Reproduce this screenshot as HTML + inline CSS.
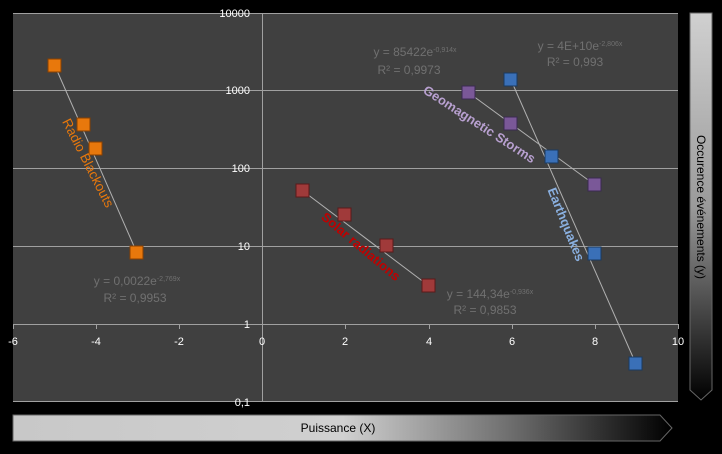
<!DOCTYPE html>
<html><head><style>
html,body{margin:0;padding:0;background:#000;}
svg{display:block;font-family:"Liberation Sans",sans-serif;}
</style></head><body>
<svg width="722" height="454" viewBox="0 0 722 454" xmlns="http://www.w3.org/2000/svg">
<defs>
<linearGradient id="bx" x1="0" x2="1" y1="0" y2="0">
<stop offset="0" stop-color="#c8c8c8"/><stop offset="0.5" stop-color="#d0d0d0"/><stop offset="0.75" stop-color="#707070"/><stop offset="1" stop-color="#000"/></linearGradient>
<linearGradient id="by" x1="0" x2="0" y1="0" y2="1">
<stop offset="0" stop-color="#d0d0d0"/><stop offset="0.5" stop-color="#9a9a9a"/><stop offset="1" stop-color="#000"/></linearGradient>
</defs>
<rect width="722" height="454" fill="#000"/>
<rect x="13" y="13" width="665" height="389" fill="#404040"/>
<g stroke="#a0a0a0" stroke-width="1">
<line x1="13" y1="13.5" x2="678" y2="13.5"/>
<line x1="13" y1="90.5" x2="678" y2="90.5"/>
<line x1="13" y1="168.5" x2="678" y2="168.5"/>
<line x1="13" y1="246.5" x2="678" y2="246.5"/>
<line x1="13" y1="324.5" x2="678" y2="324.5"/>
<line x1="13" y1="401.5" x2="678" y2="401.5"/>
<line x1="262.5" y1="13" x2="262.5" y2="402"/>
</g>
<g stroke="#a0a0a0"><line x1="13.5" y1="324" x2="13.5" y2="329"/><line x1="96.5" y1="324" x2="96.5" y2="329"/><line x1="179.5" y1="324" x2="179.5" y2="329"/><line x1="345.5" y1="324" x2="345.5" y2="329"/><line x1="429.5" y1="324" x2="429.5" y2="329"/><line x1="512.5" y1="324" x2="512.5" y2="329"/><line x1="595.5" y1="324" x2="595.5" y2="329"/><line x1="678.5" y1="324" x2="678.5" y2="329"/></g>
<g fill="#fff" font-size="11" text-anchor="end">
<text x="250" y="17">10000</text><text x="250" y="94">1000</text><text x="250" y="172">100</text><text x="250" y="250">10</text><text x="250" y="328">1</text><text x="250" y="406">0,1</text>
</g>
<g fill="#fff" font-size="11" text-anchor="middle">
<text x="13" y="345">-6</text><text x="96" y="345">-4</text><text x="179" y="345">-2</text><text x="262" y="345">0</text><text x="345" y="345">2</text><text x="429" y="345">4</text><text x="512" y="345">6</text><text x="595" y="345">8</text><text x="678" y="345">10</text>
</g>
<g stroke="#b0b0b0" stroke-width="1">
<line x1="55" y1="66" x2="137" y2="253"/>
<line x1="303" y1="191" x2="429" y2="286"/>
<line x1="469" y1="93" x2="595" y2="185"/>
<line x1="511" y1="80" x2="636" y2="364"/>
</g>
<g stroke-width="1">
<g fill="#e8780c" stroke="#8a4000">
<rect x="48" y="59" width="13" height="13"/><rect x="77" y="118" width="13" height="13"/><rect x="89" y="142" width="13" height="13"/><rect x="130" y="246" width="13" height="13"/></g>
<g fill="#a03a3a" stroke="#5a1a1a">
<rect x="296" y="184" width="13" height="13"/><rect x="338" y="208" width="13" height="13"/><rect x="380" y="239" width="13" height="13"/><rect x="422" y="279" width="13" height="13"/></g>
<g fill="#7a5898" stroke="#3a2a50">
<rect x="462" y="86" width="13" height="13"/><rect x="504" y="117" width="13" height="13"/><rect x="588" y="178" width="13" height="13"/></g>
<g fill="#3a70b8" stroke="#1a3a60">
<rect x="504" y="73" width="13" height="13"/><rect x="545" y="150" width="13" height="13"/><rect x="588" y="247" width="13" height="13"/><rect x="629" y="357" width="13" height="13"/></g>
</g>
<g fill="#707070" font-size="12" text-anchor="middle">
<text x="415" y="56">y = 85422e<tspan font-size="7" dy="-4">-0,914x</tspan></text>
<text x="409" y="74">R² = 0,9973</text>
<text x="580" y="50">y = 4E+10e<tspan font-size="7" dy="-4">-2,806x</tspan></text>
<text x="575" y="66">R² = 0,993</text>
<text x="137" y="285">y = 0,0022e<tspan font-size="7" dy="-4">-2,769x</tspan></text>
<text x="135" y="302">R² = 0,9953</text>
<text x="490" y="298">y = 144,34e<tspan font-size="7" dy="-4">-0,936x</tspan></text>
<text x="485" y="314">R² = 0,9853</text>
</g>
<g font-size="13" font-weight="bold" text-anchor="middle">
<text transform="translate(84,165) rotate(63)" fill="#e8780c" font-weight="normal" font-size="13.5">Radio Blackouts</text>
<text transform="translate(358,250) rotate(40)" fill="#c00000">Solar radiations</text>
<text transform="translate(477,128) rotate(33)" fill="#b8a0d0">Geomagnetic Storms</text>
<text transform="translate(562,226) rotate(68)" fill="#8ab0e0">Earthquakes</text>
</g>
<path d="M690,13 H712 V390 L701,400 L690,390 Z" fill="url(#by)" stroke="#666" stroke-width="1"/>
<text transform="translate(697,207) rotate(90)" font-size="12" text-anchor="middle" fill="#000">Occurence événements (y)</text>
<path d="M13,415 H660 L672,428 L660,441 H13 Z" fill="url(#bx)" stroke="#666" stroke-width="1"/>
<text x="338" y="432" font-size="12" text-anchor="middle" fill="#000">Puissance (X)</text>
</svg>
</body></html>
